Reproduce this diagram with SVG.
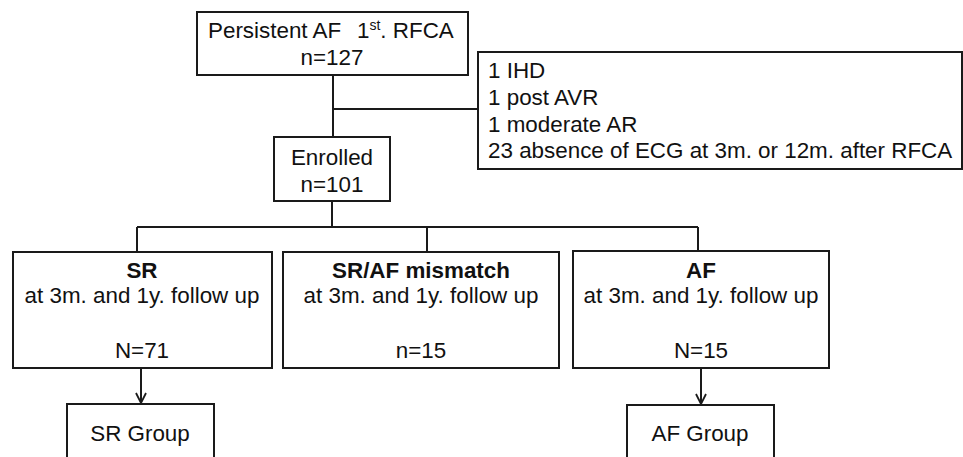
<svg xmlns="http://www.w3.org/2000/svg" width="963" height="457" viewBox="0 0 963 457">
  <style>
    .box { fill: #ffffff; stroke: #1a1a1a; stroke-width: 2; }
    .line { fill: none; stroke: #1a1a1a; stroke-width: 2; }
    text { font-family: "Liberation Sans", Arial, sans-serif; font-size: 22.4px; fill: #111111; }
    .c { text-anchor: middle; }
    .b { font-weight: bold; }
  </style>
  <defs>
    <marker id="arrow" viewBox="0 0 12 12" refX="11" refY="6" markerWidth="12" markerHeight="12" markerUnits="userSpaceOnUse" orient="auto">
      <path d="M1,1 L11,6 L1,11" fill="none" stroke="#1a1a1a" stroke-width="1.8"/>
    </marker>
  </defs>
  <rect width="963" height="457" fill="#ffffff"/>

  <g id="connectors">
    <path class="line" d="M333,75 V137"/>
    <path class="line" d="M333,109 H478"/>
    <path class="line" d="M332,201 V227"/>
    <path class="line" d="M137,227 H698"/>
    <path class="line" d="M137,227 V252"/>
    <path class="line" d="M427,227 V252"/>
    <path class="line" d="M698,227 V252"/>
    <path class="line" d="M141,368 V403" marker-end="url(#arrow)"/>
    <path class="line" d="M701,368 V404" marker-end="url(#arrow)"/>
  </g>

  <g id="start">
    <rect class="box" x="197" y="12" width="271" height="63"/>
    <text x="208" y="38">Persistent AF</text>
    <text x="357" y="38">1<tspan font-size="14" dy="-8">st</tspan><tspan dy="8">. RFCA</tspan></text>
    <text class="c" x="332" y="65">n=127</text>
  </g>

  <g id="excluded">
    <rect class="box" x="478" y="52" width="484" height="117"/>
    <text x="488" y="78">1 IHD</text>
    <text x="488" y="105">1 post AVR</text>
    <text x="488" y="132">1 moderate AR</text>
    <text x="488" y="158">23 absence of ECG at 3m. or 12m. after RFCA</text>
  </g>

  <g id="enrolled">
    <rect class="box" x="274" y="137" width="116" height="64"/>
    <text class="c" x="332" y="165">Enrolled</text>
    <text class="c" x="332" y="192">n=101</text>
  </g>

  <g id="sr">
    <rect class="box" x="13" y="252" width="259" height="116"/>
    <text class="c b" x="142" y="278">SR</text>
    <text class="c" x="142" y="303">at 3m. and 1y. follow up</text>
    <text class="c" x="142" y="358">N=71</text>
  </g>

  <g id="mismatch">
    <rect class="box" x="283" y="252" width="276" height="116"/>
    <text class="c b" x="421" y="278">SR/AF mismatch</text>
    <text class="c" x="421" y="303">at 3m. and 1y. follow up</text>
    <text class="c" x="421" y="358">n=15</text>
  </g>

  <g id="af">
    <rect class="box" x="573" y="251" width="256" height="117"/>
    <text class="c b" x="701" y="278">AF</text>
    <text class="c" x="701" y="303">at 3m. and 1y. follow up</text>
    <text class="c" x="701" y="358">N=15</text>
  </g>

  <g id="sr-group">
    <rect class="box" x="67" y="404" width="147" height="70"/>
    <text class="c" x="140" y="441">SR Group</text>
  </g>

  <g id="af-group">
    <rect class="box" x="627" y="405" width="147" height="70"/>
    <text class="c" x="700" y="441">AF Group</text>
  </g>
</svg>
